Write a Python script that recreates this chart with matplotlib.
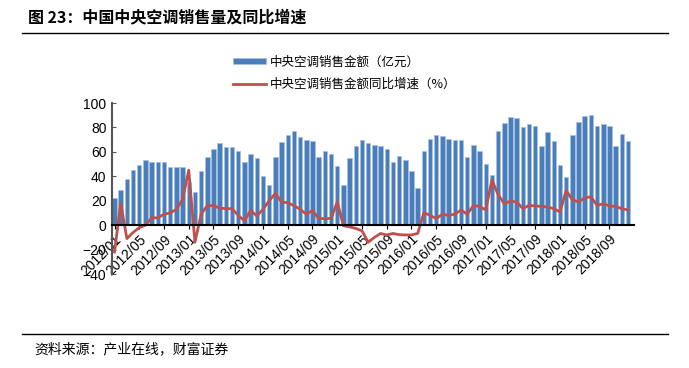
import numpy as np
import matplotlib.pyplot as plt
from matplotlib.lines import Line2D

plt.rcParams['font.family'] = ['Liberation Sans', 'Noto Sans CJK SC', 'DejaVu Sans']

# monthly data 2012/01 - 2018/12
months = [f'{y}/{m:02d}' for y in range(2012, 2019) for m in range(1, 13)]

sales = [
    22, 28.5, 37.5, 45.5, 49, 53, 52, 52, 52, 47.5, 48, 48,
    35, 27.5, 44.5, 56, 62, 67, 64, 64, 61, 52, 58, 55,
    40.5, 32.5, 56, 68, 74, 77.5, 72.5, 70, 69, 56, 61, 58,
    48.5, 32.5, 55, 65, 70, 67, 65.7, 65, 62, 52, 57, 53.5,
    44.5, 30.5, 61, 70.5, 73.8, 72.7, 70.8, 69.7, 69.7, 56, 65.7, 61,
    50.3, 41.4, 77, 83.8, 88.6, 87.6, 80.5, 82.7, 80.8, 65, 76, 69.2,
    49.5, 39.7, 73.8, 84.6, 89.2, 90.3, 81.6, 82.7, 80.8, 65, 74.6, 69.2,
]
growth = [
    -22, 18, -11, -6, -2, 0, 6, 6, 9, 10, 13, 21,
    45, -14, 9, 16, 16, 14, 13.5, 13.5, 8, 3.5, 12, 7.6,
    13, 20, 26, 19, 18.4, 16, 13, 9, 12, 5.4, 5.4, 5.4,
    19, -0.5, -1.4, -2.7, -4.6, -14, -10, -6.8, -8, -6.8, -7.8, -8,
    -8, -6.8, 10.3, 8, 5.4, 9, 8, 9, 12.4, 9, 16, 15.4,
    12.4, 37, 25, 17.6, 19.7, 19, 13.5, 16.2, 15.7, 15.4, 14.9, 13.5,
    10.8, 28.4, 20.8, 19, 22.4, 23.2, 16.2, 17.6, 15.7, 15.4, 13.5, 12.4,
]

x = np.arange(len(months))

fig = plt.figure(figsize=(6.89, 3.68), dpi=100)
ax = fig.add_axes([0.1626, 0.2554, 0.757, 0.4646])

bars = ax.bar(x, sales, width=0.72, color='#4a7ebb', edgecolor='#a9c1e0',
              linewidth=0.6, label='中央空调销售金额（亿元）', zorder=2)
line, = ax.plot(x, growth, color='#c0504d', linewidth=2,
                label='中央空调销售金额同比增速（%）', zorder=3)

ax.set_ylim(-40, 100)
ax.set_yticks(range(-40, 101, 20))
ax.set_xlim(-0.4, 83.9)

ax.spines['top'].set_visible(False)
ax.spines['right'].set_visible(False)
ax.spines['left'].set_color('#555555')
ax.spines['left'].set_linewidth(1.5)
ax.spines['bottom'].set_position(('data', 0))
ax.spines['bottom'].set_color('black')
ax.spines['bottom'].set_linewidth(1.5)
ax.spines['bottom'].set_zorder(4)

ax.tick_params(axis='y', direction='in', length=3, labelsize=10, pad=4, color='#555555')
ax.set_xticks(x[::4])
ax.set_xticklabels(months[::4], rotation=45, ha='right', rotation_mode='anchor',
                   fontsize=10)
ax.tick_params(axis='x', direction='out', length=3, pad=2)

fig.legend(handles=[bars, line], loc='upper left', bbox_to_anchor=(0.322, 0.88),
           frameon=False, handlelength=2.6, handleheight=0.45,
           labelspacing=0.75, handletextpad=0.3, prop={'family': ['Noto Sans CJK SC'], 'size': 9})

fig.text(0.04, 0.952, '图 23：中国中央空调销售量及同比增速', fontsize=11.5, fontweight='bold',
         family=['Noto Sans CJK SC'], va='center', ha='left')
fig.add_artist(Line2D([0.032, 0.97], [0.91, 0.91], color='black', linewidth=1))
fig.add_artist(Line2D([0.032, 0.97], [0.092, 0.092], color='black', linewidth=1))
fig.text(0.05, 0.052, '资料来源：产业在线，财富证券', fontsize=10, style='italic',
         family=['Noto Sans CJK SC'], va='center', ha='left')

fig.savefig('out.png', dpi=100)
